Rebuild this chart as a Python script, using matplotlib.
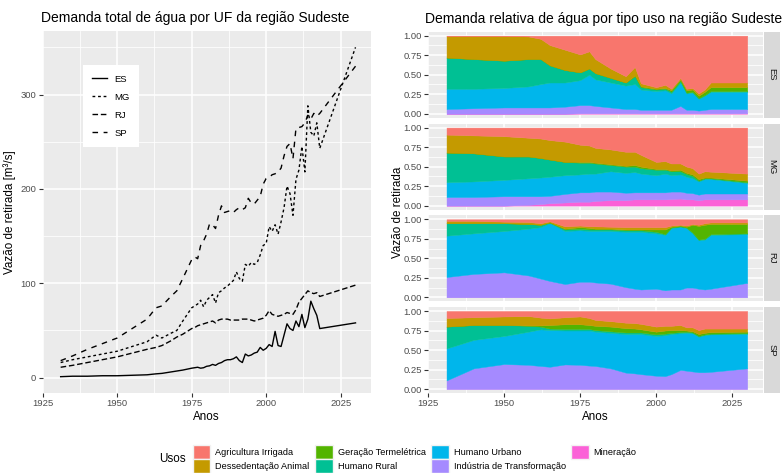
import numpy as np
import pandas as pd
import matplotlib
matplotlib.use('Agg')
import matplotlib.pyplot as plt
from matplotlib.patches import Patch
from matplotlib.ticker import MultipleLocator, FormatStrFormatter

plt.rcParams['font.family'] = ['Liberation Sans', 'DejaVu Sans']

# ---- dados: demanda total por UF (m3/s) ----
anos = [1931, 1935, 1940, 1945, 1950, 1955, 1960, 1963, 1965, 1968, 1970, 1972,
        1975, 1976, 1977, 1978, 1979, 1980, 1981, 1982, 1983, 1984, 1985, 1986,
        1987, 1988, 1989, 1990, 1991, 1992, 1993, 1994, 1995, 1996, 1997, 1998,
        1999, 2000, 2001, 2002, 2003, 2004, 2005, 2006, 2007, 2008, 2009, 2010,
        2011, 2012, 2013, 2014, 2015, 2016, 2017, 2018, 2030]
es = [1, 1.5, 1.5, 2, 2, 2.5, 3, 4, 4.5, 6, 7, 8,
      10, 10.5, 11, 10, 10.5, 12, 12.5, 14, 13, 15, 16, 18,
      19, 19, 20, 22, 18, 16, 25, 23, 24, 26, 27, 32,
      29, 31, 35, 33, 49, 34, 33, 45, 57, 52, 50, 60,
      54, 67, 53, 62, 81, 73, 66, 52, 58]
mg = [16, 19, 22, 25, 28, 33, 38, 45, 42, 47, 50, 60,
      74, 76, 78, 82, 75, 82, 85, 88, 79, 90, 92, 95,
      97, 100, 103, 112, 105, 102, 120, 118, 122, 120, 122, 130,
      140, 142, 160, 155, 162, 152, 165, 180, 203, 195, 172, 210,
      220, 245, 218, 288, 260, 256, 270, 243, 350]
rj = [11, 13, 16, 19, 22, 26, 30, 32, 34, 39, 43, 46,
      52, 53, 55, 56, 57, 58, 59, 60, 58, 61, 62, 62,
      62, 61, 61, 61, 61, 62, 62, 62, 61, 60, 61, 62,
      63, 66, 71, 67, 66, 65, 66, 67, 69, 68, 67, 72,
      80, 84, 88, 92, 90, 89, 90, 86, 98]
sp = [18, 23, 30, 36, 42, 52, 62, 74, 76, 86, 92, 105,
      125, 128, 126, 140, 145, 152, 163, 162, 158, 172, 182, 175,
      176, 177, 175, 178, 180, 178, 180, 190, 185, 184, 188, 192,
      205, 211, 212, 215, 216, 218, 222, 235, 245, 248, 232, 264,
      265, 266, 270, 278, 274, 280, 277, 280, 330]

df = pd.DataFrame({'ano': anos, 'ES': es, 'MG': mg, 'RJ': rj, 'SP': sp})

# ---- dados: participacao relativa por uso (%) ----
usos = ['Agricultura Irrigada', 'Dessedentação Animal', 'Geração Termelétrica',
        'Humano Rural', 'Humano Urbano', 'Indústria de Transformação', 'Mineração']
cores = ['#F8766D', '#C49A00', '#53B400', '#00C094', '#00B6EB', '#A58AFF', '#FB61D7']

anos_rel = [1931, 1940, 1950, 1958, 1962, 1965, 1970, 1975, 1978, 1980, 1985, 1990,
            1993, 1995, 2000, 2003, 2005, 2008, 2010, 2012, 2014, 2016, 2018, 2030]
# colunas: Mineração, Indústria, Urbano, Rural, Termelétrica, Dessedentação, Agricultura
rel_es = [[0, 6, 26, 40, 0, 28, 0], [0, 7, 25, 38, 0, 30, 0], [0, 8, 25, 35, 0, 32, 0],
          [0, 8, 27, 35, 0, 29, 1], [0, 8, 30, 32, 0, 26, 4], [0, 8, 32, 22, 0, 26, 12],
          [0, 9, 31, 16, 0, 26, 18], [0.5, 10.5, 32, 10, 0, 23, 24], [0.5, 10.5, 39, 8, 0, 22, 20],
          [0.5, 9.5, 34, 8, 0, 18, 30], [0.5, 7.5, 32, 6, 0, 12, 42], [0.5, 5.5, 30, 4, 0, 8, 52],
          [0.5, 5.5, 32, 10, 1, 11, 40], [0.5, 4.5, 26, 3, 1, 4, 61], [0.5, 4.5, 24, 2, 1, 2, 66],
          [0.5, 4.5, 25, 2, 1, 4, 63], [0.5, 4.5, 21, 2, 2, 2, 68], [0.5, 9.5, 30, 2, 2, 2, 54],
          [0.5, 4.5, 21, 1, 3, 2, 68], [0.5, 4.5, 22, 1, 3, 2, 67], [0.5, 3.5, 15, 1, 3, 3, 74],
          [0.5, 4.5, 18, 1, 4, 3, 69], [0.5, 5.5, 22, 1, 5, 6, 60], [0.5, 5.5, 22, 1, 5, 6, 60]]
rel_mg = [[0, 11, 19, 38, 0, 23, 9], [0, 11, 20, 36, 0, 23, 10], [0, 12, 21, 30, 0, 26, 11],
          [1, 11, 23, 28, 0, 24, 13], [2, 10, 24, 25, 0, 25, 14], [3, 9.5, 24.5, 22, 0, 25, 16],
          [4, 11, 24, 17, 0, 26, 18], [5, 12, 23, 15, 1, 22, 22], [5, 12, 24, 14, 1, 21, 23],
          [6, 12, 23, 13, 1, 19, 26], [7, 11, 26, 8, 1, 19, 28], [7, 9.5, 25.5, 8, 1, 18, 31],
          [8, 9, 26, 7, 2, 17, 31], [8, 9, 24, 7, 2, 15, 35], [8, 9, 22, 7, 1, 9, 44],
          [8, 9, 24, 5, 1, 10, 43], [8.5, 9.5, 21, 5, 1, 9, 46], [9, 9, 22, 4, 2, 8, 46],
          [8, 8.5, 20.5, 3.5, 1.5, 8, 50], [8, 8, 19, 3, 2, 8, 52], [7, 7, 17, 1, 2, 7, 59],
          [8, 7.5, 18.5, 1, 1, 8, 56], [8, 7.5, 18.5, 1, 1, 7.5, 56.5], [8, 7.5, 13.5, 1, 2, 9, 59]]
rel_rj = [[0, 26, 53, 16, 0, 3, 2], [0, 30, 52, 13, 0, 3, 2], [0, 32, 53, 10, 0, 2, 3],
          [0, 28, 60, 6, 0, 2.5, 3.5], [0, 24, 66, 3, 0, 2, 5], [0, 21, 74, 1, 0, 1.5, 2.5],
          [0, 17, 68, 2, 1, 3, 9], [0, 20, 66, 2, 2, 2, 8], [0, 20, 65, 2, 2, 2, 9],
          [0, 19, 66, 2, 1, 3, 9], [0, 17.5, 67.5, 2, 1, 2.5, 9.5], [0, 13, 71, 2, 1, 3, 10],
          [0, 11, 73, 2, 1, 3, 10], [0, 10, 74, 2, 1, 3, 10], [0, 11, 71, 2, 3, 3, 10],
          [0, 9, 71, 1, 6, 3, 10], [0, 10, 78.5, 1, 1, 1.5, 8], [0, 10, 80.5, 0.5, 1, 1, 7],
          [0, 12.5, 76, 1, 1, 1.5, 8], [0, 12.5, 69.5, 1, 10, 1, 6], [0, 11, 62, 1, 17.5, 1.5, 7],
          [0, 10, 64, 1, 18, 2, 5], [0, 11, 69, 1, 13, 2, 4], [0, 18.5, 62.5, 1, 12, 2, 4]]
rel_sp = [[0, 11, 41, 28, 0, 11, 9], [0, 26.5, 36.5, 19, 0, 10, 8], [0, 32, 36, 14, 0, 11, 7],
          [0, 31, 42.5, 7.5, 0.5, 12, 6.5], [0, 29.5, 47, 3.5, 1.5, 10, 8.5], [0, 28.5, 47, 2, 4.5, 8.5, 9.5],
          [0, 31.5, 43.5, 2, 6, 9, 8], [0, 31, 44, 2, 6, 10, 7], [0, 30, 45, 2, 5, 9, 9],
          [0, 29.5, 44, 2, 5.5, 7.5, 11.5], [0, 26.5, 45.5, 2, 6, 7, 13], [0, 21, 49.5, 2, 5.5, 7, 15],
          [0, 20, 50.5, 2, 5, 7, 15.5], [0, 19, 51.5, 2, 4, 7, 16.5], [0, 17, 51, 2, 3.5, 6.5, 20],
          [0, 16.5, 52.5, 2, 4, 6, 19], [0, 19, 51.5, 1.5, 3.5, 5.5, 19], [0, 24.5, 47, 1.5, 2.5, 6.5, 18],
          [0, 23.5, 48.5, 1.5, 1.5, 4, 21], [0, 22.5, 49, 1, 1.5, 5, 21], [0, 21.5, 45.5, 1, 2.5, 5, 24.5],
          [0, 21.5, 47.5, 1, 2, 5.5, 22.5], [0, 22, 48, 1, 2, 4.5, 22.5], [0, 26.5, 44, 1, 2, 4, 22.5]]
estados = ['ES', 'MG', 'RJ', 'SP']
rel = {'ES': rel_es, 'MG': rel_mg, 'RJ': rel_rj, 'SP': rel_sp}

# ---- figura ----
W, H = 784, 473
fig = plt.figure(figsize=(W / 100, H / 100), dpi=100)


def caixa(x0, y0, x1, y1):
    return [x0 / W, 1 - y1 / H, (x1 - x0) / W, (y1 - y0) / H]


def estilo_gg(ax):
    ax.set_facecolor('#EBEBEB')
    for s in ax.spines.values():
        s.set_visible(False)
    ax.grid(which='major', color='white', lw=1.1)
    ax.grid(which='minor', color='white', lw=0.55)
    ax.set_axisbelow(True)
    ax.tick_params(which='major', length=3, width=0.8, color='#333333',
                   labelsize=6.8, labelcolor='#4D4D4D', pad=1.5)
    ax.tick_params(which='minor', length=0)
    ax.xaxis.set_major_locator(MultipleLocator(25))
    ax.xaxis.set_minor_locator(MultipleLocator(12.5))
    ax.set_xlim(1924.9, 2035.2)


# painel esquerdo
ax = fig.add_axes(caixa(42.5, 30.8, 371, 393.2))
estilo_gg(ax)
tipos = {'ES': '-', 'MG': (0, (2, 2)), 'RJ': (0, (4, 2)), 'SP': (0, (4, 4))}
for uf in estados:
    ax.plot(df['ano'], df[uf], color='black', lw=1.0, ls=tipos[uf], label=uf)
ax.set_ylim(-16.5, 367.5)
ax.yaxis.set_major_locator(MultipleLocator(100))
ax.yaxis.set_minor_locator(MultipleLocator(50))
leg = ax.legend(loc='upper left', bbox_to_anchor=(0.1233, 0.905), borderaxespad=0,
                frameon=True, fancybox=False, facecolor='white', edgecolor='none',
                fontsize=6.8, handlelength=1.5, handletextpad=0.8, labelspacing=0.95,
                borderpad=1.0)
leg.get_frame().set_alpha(1)
ax.set_xlabel('Anos', fontsize=8.4, labelpad=2)
ax.set_ylabel('Vazão de retirada [m³/s]', fontsize=8.4, labelpad=3)
fig.text(195 / W, 1 - 18 / H, 'Demanda total de água por UF da região Sudeste',
         ha='center', va='center', fontsize=10)

# paineis da direita (facetas)
topos = [31.8, 123.7, 215.4, 307.1]
alt = 85.8
cores_pilha = cores[::-1]
for i, uf in enumerate(estados):
    y0 = topos[i]
    axr = fig.add_axes(caixa(428, y0, 763, y0 + alt))
    estilo_gg(axr)
    v = np.array(rel[uf], dtype=float)
    v = v / v.sum(axis=1, keepdims=True)
    axr.stackplot(anos_rel, v.T, colors=cores_pilha, lw=0.3, edgecolor='face')
    axr.set_ylim(-0.05, 1.05)
    axr.yaxis.set_major_locator(MultipleLocator(0.25))
    axr.yaxis.set_minor_locator(MultipleLocator(0.125))
    axr.yaxis.set_major_formatter(FormatStrFormatter('%.2f'))
    if i < 3:
        axr.tick_params(axis='x', labelbottom=False, length=0)
    else:
        axr.set_xlabel('Anos', fontsize=8.4, labelpad=2)
    faixa = fig.add_axes(caixa(763.5, y0, 780.5, y0 + alt))
    faixa.set_facecolor('#D9D9D9')
    faixa.set_xticks([])
    faixa.set_yticks([])
    for s in faixa.spines.values():
        s.set_visible(False)
    faixa.text(0.5, 0.5, uf, rotation=270, ha='center', va='center',
               fontsize=6.8, color='#1A1A1A', transform=faixa.transAxes)

fig.text(398 / W, 1 - 212 / H, 'Vazão de retirada', rotation=90,
         ha='center', va='center', fontsize=8.4)
fig.text(604 / W, 1 - 19 / H, 'Demanda relativa de água por tipo uso na região Sudeste',
         ha='center', va='center', fontsize=10)

# legenda inferior
alcas = [Patch(facecolor=c, edgecolor='#F2F2F2', lw=1) for c in cores]
fig.legend(alcas, usos, ncol=4, loc='center left', bbox_to_anchor=(193 / W, 1 - 459 / H),
           frameon=False, fontsize=6.6, handlelength=1.9, handleheight=1.9,
           handletextpad=0.55, columnspacing=0.6, labelspacing=0.08, borderpad=0,
           borderaxespad=0)
fig.text(172 / W, 1 - 459 / H, 'Usos', ha='center', va='center', fontsize=8.4)

fig.savefig('out.png', dpi=100)
